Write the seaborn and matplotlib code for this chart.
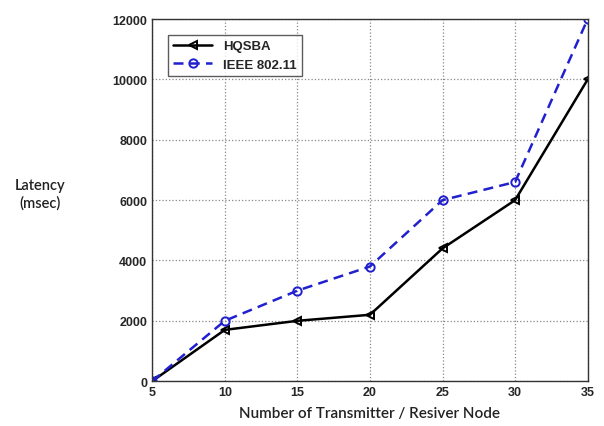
import matplotlib
matplotlib.use("Agg")
import matplotlib.pyplot as plt
import seaborn as sns
import pandas as pd

nodes = [5, 10, 15, 20, 25, 30, 35]
hqsba = [0, 1700, 2000, 2200, 4400, 6000, 10000]
ieee = [0, 2000, 3000, 3800, 6000, 6600, 12000]
series_names = ["HQSBA", "IEEE 802.11"]
x_ticks = [5, 10, 15, 20, 25, 30, 35]
y_ticks = [0, 2000, 4000, 6000, 8000, 10000, 12000]

df = pd.DataFrame({
    "Nodes": nodes * 2,
    "Latency": hqsba + ieee,
    "Series": [series_names[0]] * len(nodes) + [series_names[1]] * len(nodes),
})

sns.set_style("white")
plt.rcParams["font.family"] = ["Liberation Sans", "DejaVu Sans"]

fig = plt.figure(figsize=(6.04, 4.27), dpi=100)
ax = fig.add_axes([0.252, 0.105, 0.721, 0.848])

sns.lineplot(data=df, x="Nodes", y="Latency", hue="Series", style="Series",
             palette={series_names[0]: "black", series_names[1]: "#2020d0"},
             dashes={series_names[0]: "", series_names[1]: (4, 2.5)},
             markers={series_names[0]: "<", series_names[1]: "o"},
             markersize=6, linewidth=1.8,
             ax=ax)

for line in ax.lines:
    line.set_markerfacecolor("none")
    line.set_markeredgecolor(line.get_color())
    line.set_markeredgewidth(1.4)

ax.set_xlim(5, 35)
ax.set_ylim(0, 12000)
ax.set_xticks(x_ticks)
ax.set_yticks(y_ticks)
ax.tick_params(axis="both", labelsize=9, direction="in", length=4)
for lbl in ax.get_xticklabels() + ax.get_yticklabels():
    lbl.set_fontweight("bold")
ax.grid(True, linestyle=":", color="#888888", linewidth=0.9)
for s in ax.spines.values():
    s.set_color("#333333")
    s.set_linewidth(1.0)

ax.set_xlabel("Number of Transmitter / Resiver Node", fontsize=11, family=["Lato", "DejaVu Sans"],
              fontweight="semibold", color="#222222", labelpad=6)
ax.set_ylabel("")
fig.text(0.066, 0.543, "Latency\n(msec)", fontsize=10.5, family=["Lato", "DejaVu Sans"],
         fontweight="semibold", color="#222222", ha="center", va="center", linespacing=1.3)

leg = ax.legend(loc="upper left", bbox_to_anchor=(0.02, 0.975), fontsize=9.5,
                frameon=True, fancybox=False, edgecolor="#333333",
                handlelength=3, borderpad=0.4, labelspacing=0.5)
for t in leg.get_texts():
    t.set_fontweight("bold")
leg.get_frame().set_linewidth(1.0)

fig.savefig("out.png", dpi=100)
